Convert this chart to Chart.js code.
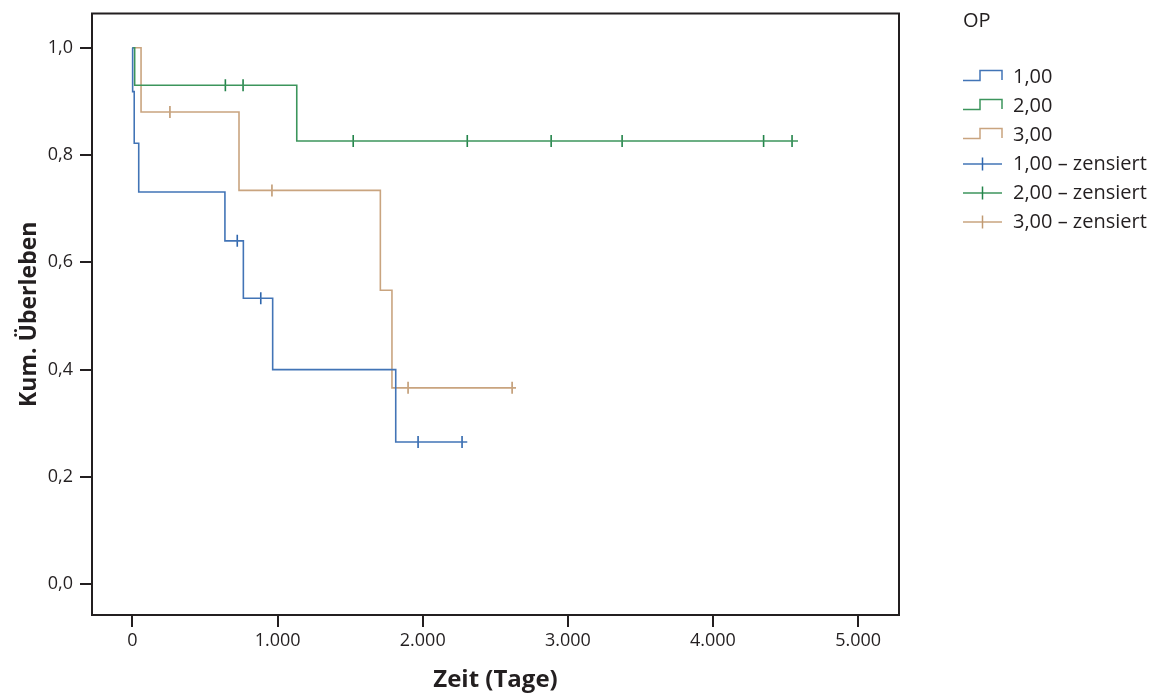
<!DOCTYPE html>
<html>
<head>
<meta charset="utf-8">
<script src="https://cdn.jsdelivr.net/npm/chart.js@4/dist/chart.umd.min.js"></script>
<style>
  body { margin: 0; background: #fff; }
  #wrap { width: 1160px; height: 695px; position: relative; }
</style>
</head>
<body>
<div id="wrap"><canvas id="km-chart"></canvas></div>
<script>
// Kaplan-Meier data (Zeit in Tage, Kum. Ueberleben)
const op1Times = [0, 1, 12, 43, 637, 764, 966, 1814, 2307];
const op1Surv  = [1.0, 0.918, 0.822, 0.731, 0.640, 0.533, 0.400, 0.265, 0.265];
const op1CensTimes = [722, 884, 1968, 2271];
const op1CensSurv  = [0.640, 0.533, 0.265, 0.265];

const op2Times = [0, 15, 1132, 4586];
const op2Surv  = [1.0, 0.930, 0.826, 0.826];
const op2CensTimes = [640, 762, 1521, 2307, 2885, 3374, 4349, 4545];
const op2CensSurv  = [0.930, 0.930, 0.826, 0.826, 0.826, 0.826, 0.826, 0.826];

const op3Times = [0, 59, 734, 1708, 1788, 2643];
const op3Surv  = [1.0, 0.880, 0.734, 0.548, 0.366, 0.366];
const op3CensTimes = [258, 961, 1899, 2616];
const op3CensSurv  = [0.880, 0.734, 0.366, 0.366];

const groupLabels = ['1,00', '2,00', '3,00'];
const censLabel = ' \u2013 zensiert';

const xTickValues = [0, 1000, 2000, 3000, 4000, 5000];
const xTickLabels = ['0', '1.000', '2.000', '3.000', '4.000', '5.000'];
const yTickValues = [0, 0.2, 0.4, 0.6, 0.8, 1.0];
const yTickLabels = ['0,0', '0,2', '0,4', '0,6', '0,8', '1,0'];

const lineColours = ['#4274b6', '#3c955c', '#c9a47f'];
const censColours = ['#2f66ad', '#23844a', '#c09a72'];
const textColour = '#231f20';
const fontFamily = "'Open Sans', 'DejaVu Sans', sans-serif";

makePoints = function (xs, ys) {
  return xs.map((x, i) => ({ x: x, y: ys[i] }));
};

// Step curves and the censor marks
const curveData = [[op1Times, op1Surv], [op2Times, op2Surv], [op3Times, op3Surv]];
const censData = [[op1CensTimes, op1CensSurv], [op2CensTimes, op2CensSurv], [op3CensTimes, op3CensSurv]];

const datasets = [];
for (let i = 0; i < 3; i++) {
  datasets.push({
    type: 'line',
    label: groupLabels[i],
    data: makePoints(curveData[i][0], curveData[i][1]),
    stepped: 'before',
    borderColor: lineColours[i],
    borderWidth: 1.6,
    pointRadius: 0,
    fill: false
  });
}
for (let i = 0; i < 3; i++) {
  datasets.push({
    type: 'scatter',
    label: groupLabels[i] + censLabel,
    data: makePoints(censData[i][0], censData[i][1]),
    showLine: false,
    pointStyle: 'line',
    rotation: 90,
    pointRadius: 6,
    borderColor: censColours[i],
    backgroundColor: censColours[i],
    pointBorderWidth: 1.6
  });
}

// Frame round the plot area and the SPSS style legend on the right
const framePlugin = {
  id: 'frame',
  afterDraw: function (chart) {
    const ctx = chart.ctx;
    const a = chart.chartArea;
    ctx.save();
    ctx.strokeStyle = textColour;
    ctx.lineWidth = 2;
    ctx.strokeRect(a.left, a.top, a.right - a.left, a.bottom - a.top);

    // legend
    const lx = 963;
    ctx.fillStyle = textColour;
    ctx.font = '20px ' + fontFamily;
    ctx.textBaseline = 'middle';
    ctx.textAlign = 'left';
    ctx.fillText('OP', lx, 21);
    const rowY = [77, 106, 135, 164, 193, 222];
    ctx.lineWidth = 1.5;
    for (let i = 0; i < 3; i++) {
      const y = rowY[i];
      ctx.strokeStyle = lineColours[i];
      ctx.beginPath();
      ctx.moveTo(lx, y + 3.5);
      ctx.lineTo(lx + 17, y + 3.5);
      ctx.lineTo(lx + 17, y - 6.5);
      ctx.lineTo(lx + 39, y - 6.5);
      ctx.lineTo(lx + 39, y + 3);
      ctx.stroke();
      ctx.fillText(groupLabels[i], lx + 50, y);
    }
    for (let i = 0; i < 3; i++) {
      const y = rowY[i + 3];
      ctx.strokeStyle = lineColours[i];
      ctx.beginPath();
      ctx.moveTo(lx, y);
      ctx.lineTo(lx + 39, y);
      ctx.stroke();
      ctx.strokeStyle = censColours[i];
      ctx.beginPath();
      ctx.moveTo(lx + 19.5, y - 6.5);
      ctx.lineTo(lx + 19.5, y + 6.5);
      ctx.stroke();
      ctx.fillText(groupLabels[i] + censLabel, lx + 50, y);
    }
    ctx.restore();
  }
};

var kmctx = document.getElementById('km-chart').getContext('2d');
var kmChart = new Chart(kmctx, {
  data: { datasets: datasets },
  options: {
    responsive: true,
    maintainAspectRatio: false,
    animation: false,
    layout: { padding: { left: 0, top: 13.5, right: 261, bottom: 0 } },
    scales: {
      x: {
        type: 'linear',
        min: -279,
        max: 5282,
        afterBuildTicks: function (scale) {
          scale.ticks = xTickValues.map((v) => ({ value: v }));
        },
        afterFit: function (scale) {
          scale.height = 80;
          scale.paddingLeft = 0;
          scale.paddingRight = 0;
        },
        ticks: {
          padding: 3,
          color: textColour,
          font: { family: fontFamily, size: 18 },
          maxRotation: 0,
          callback: function (value, index) { return xTickLabels[index]; }
        },
        grid: { drawOnChartArea: false, drawTicks: true, tickLength: 12, color: textColour, lineWidth: 2 },
        border: { display: false },
        title: {
          display: true,
          text: 'Zeit (Tage)',
          color: textColour,
          font: { family: fontFamily, size: 24, weight: 'bold' },
          padding: { top: 0, bottom: 0 }
        }
      },
      y: {
        type: 'linear',
        min: -0.0574,
        max: 1.0637,
        afterBuildTicks: function (scale) {
          scale.ticks = yTickValues.map((v) => ({ value: v }));
        },
        afterFit: function (scale) {
          scale.width = 92;
          scale.paddingTop = 0;
          scale.paddingBottom = 0;
        },
        ticks: {
          padding: 7,
          color: textColour,
          font: { family: fontFamily, size: 18 },
          callback: function (value, index) { return yTickLabels[index]; }
        },
        grid: { drawOnChartArea: false, drawTicks: true, tickLength: 12, color: textColour, lineWidth: 2 },
        border: { display: false },
        title: {
          display: true,
          text: 'Kum. \u00dcberleben',
          color: textColour,
          font: { family: fontFamily, size: 23, weight: 'bold' },
          padding: { top: 16, bottom: 0 }
        }
      }
    },
    plugins: {
      legend: { display: false },
      tooltip: { enabled: false }
    }
  },
  plugins: [framePlugin]
});
</script>
</body>
</html>
